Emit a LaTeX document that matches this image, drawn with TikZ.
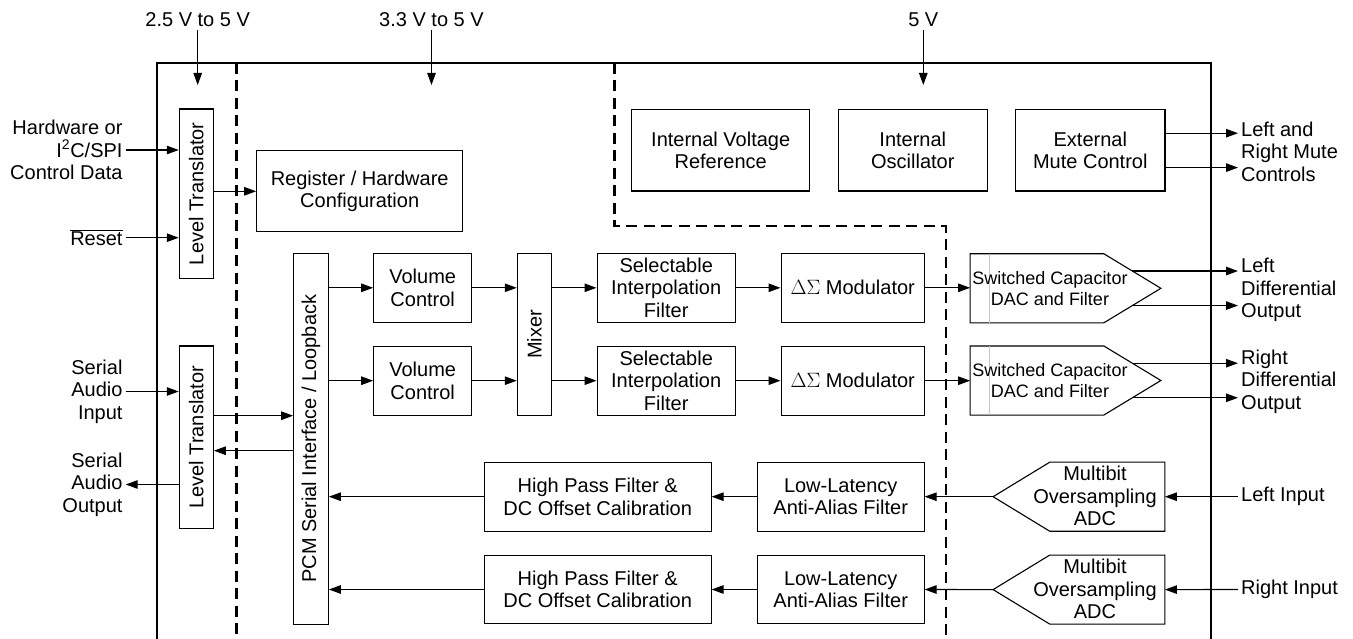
\documentclass[tikz,border=0pt]{standalone}
\usepackage{fontspec}
\setmainfont{Liberation Sans}
\usetikzlibrary{arrows.meta,calc}
\tikzset{
  fnt/.style={font=\fontsize{20}{22.5}\selectfont},
  box/.style={draw, line width=1.1pt, inner sep=0pt, align=center, fnt},
  bx/.style 2 args={box, minimum width=#1pt, minimum height=#2pt},
  ghost/.style 2 args={inner sep=0pt, minimum width=#1pt, minimum height=#2pt},
  lbl/.style={inner sep=3pt, fnt},
  arr/.style={-{Triangle[length=12pt,width=8.5pt]}, line width=1.1pt},
  outline/.style={line width=2.4pt},
  dsh/.style={line width=2.4pt, dash pattern=on 11pt off 6.5pt},
  shp/.style={line width=1.1pt, line join=miter},
}
\begin{document}
\begin{tikzpicture}[x=1pt,y=-1pt]
\useasboundingbox (0,0) rectangle (1353,639);

% outer frame and supply domains
\draw[outline] (157,639) -- (157,63) -- (1211,63) -- (1211,639);
\draw[dsh] (236.3,63) -- (236.3,639);
\draw[dsh] (614.3,63) -- (614.3,226) -- (945.7,226) -- (945.7,639);

% supply labels
\node[lbl] (v1) at (197.7,20) {2.5 V to 5 V};
\node[lbl] (v2) at (431.5,20) {3.3 V to 5 V};
\node[lbl] (v3) at (923.3,20) {5 V};
\coordinate (v1e) at (197.7,85);
\coordinate (v2e) at (431.5,85);
\coordinate (v3e) at (923.3,85);
\draw[arr] (v1.south) -- (v1e);
\draw[arr] (v2.south) -- (v2e);
\draw[arr] (v3.south) -- (v3e);

% left column
\node[bx={34}{169.3}] (lt1) at (196.3,193.7) {\rotatebox{90}{Level Translator}};
\node[bx={34}{182.7}] (lt2) at (196.3,437.3) {\rotatebox{90}{Level Translator}};
\node[bx={206}{80.7}] (reg) at (359.7,191.3) {Register / Hardware\\Configuration};
\node[bx={34.6}{370.7}] (pcm) at (311,438.7) {\rotatebox{90}{PCM Serial Interface / Loopback}};

% DAC path
\node[bx={98}{69}] (vc1) at (422.7,287.8) {Volume\\Control};
\node[bx={98}{69}] (vc2) at (422.7,380.7) {Volume\\Control};
\node[bx={34.4}{162.4}] (mix) at (534.5,334.5) {\rotatebox{90}{Mixer}};
\node[bx={138.3}{69}] (sif1) at (666.2,287.8) {Selectable\\Interpolation\\Filter};
\node[bx={138.3}{69}] (sif2) at (666.2,380.7) {Selectable\\Interpolation\\Filter};
\node[bx={143.3}{69}] (dsm1) at (852.7,287.8) {$\Delta\Sigma$ Modulator};
\node[bx={143.3}{69}] (dsm2) at (852.7,380.7) {$\Delta\Sigma$ Modulator};

% top right blocks
\node[bx={178}{81.7}] (ivr) at (720.7,150.2) {Internal Voltage\\Reference};
\node[bx={149}{81.7}] (osc) at (912.8,150.2) {Internal\\Oscillator};
\node[bx={149.3}{81.7}] (emc) at (1090.3,150.2) {External\\Mute Control};

% ADC path
\node[bx={226.7}{68.7}] (hpf1) at (597.7,496.7) {High Pass Filter \&\\DC Offset Calibration};
\node[bx={226.7}{68.7}] (hpf2) at (597.7,589.5) {High Pass Filter \&\\DC Offset Calibration};
\node[bx={166.7}{68.7}] (ll1) at (840.7,496.7) {Low-Latency\\Anti-Alias Filter};
\node[bx={166.7}{68.7}] (ll2) at (840.7,589.5) {Low-Latency\\Anti-Alias Filter};

% DAC shapes
\node[ghost={190.4}{68.7}] (dac1) at (1065.5,288.3) {};
\node[ghost={190.4}{68.7}] (dac2) at (1065.5,380.5) {};
\draw[shp] (dac1.south west) -- (dac1.north west) -- ++(133.7,0) coordinate (dac1t)
  -- (dac1.east) -- (dac1.south west -| dac1t) coordinate (dac1b) -- cycle;
\draw[shp] (dac2.south west) -- (dac2.north west) -- ++(133.7,0) coordinate (dac2t)
  -- (dac2.east) -- (dac2.south west -| dac2t) coordinate (dac2b) -- cycle;
\draw[gray!45, line width=1.1pt] ($(dac1.north west)+(19,0)$) -- ($(dac1.south west)+(19,0)$);
\draw[gray!45, line width=1.1pt] ($(dac2.north west)+(19,0)$) -- ($(dac2.south west)+(19,0)$);
\node[align=center, inner sep=0pt, font=\fontsize{18}{21}\selectfont] (dac1txt) at (1050,288.5) {Switched Capacitor\\DAC and Filter};
\node[align=center, inner sep=0pt, font=\fontsize{18}{21}\selectfont] (dac2txt) at (1050,380.7) {Switched Capacitor\\DAC and Filter};

% ADC shapes
\node[ghost={171.4}{68.7}] (adc1) at (1079,496.7) {};
\node[ghost={171.4}{68.7}] (adc2) at (1079,589.6) {};
\draw[shp] (adc1.west) -- ($(adc1.north west)+(56.7,0)$) -- (adc1.north east) -- (adc1.south east) -- ($(adc1.south west)+(56.7,0)$) -- cycle;
\draw[shp] (adc2.west) -- ($(adc2.north west)+(56.7,0)$) -- (adc2.north east) -- (adc2.south east) -- ($(adc2.south west)+(56.7,0)$) -- cycle;
\node[align=center, inner sep=0pt, fnt] (adc1txt) at (1095,496.2) {Multibit\\Oversampling\\ADC};
\node[align=center, inner sep=0pt, fnt] (adc2txt) at (1095,589.1) {Multibit\\Oversampling\\ADC};

% external labels
\node[lbl, align=right, anchor=east] (hw) at (125.7,150) {Hardware or\\I\textsuperscript{2}C/SPI\\Control Data};
\node[lbl, anchor=east] (rst) at (125.7,237.7) {$\overline{\mbox{Reset}}$};
\node[lbl, align=right, anchor=east] (sai) at (125.7,391.5) {Serial\\Audio\\Input};
\node[lbl, align=right, anchor=east] (sao) at (125.7,484.5) {Serial\\Audio\\Output};
\node[lbl, align=left, anchor=west] (mute) at (1238,151.7) {Left and\\Right Mute\\Controls};
\node[lbl, align=left, anchor=west] (ldo) at (1238,290) {Left\\Differential\\Output};
\node[lbl, align=left, anchor=west] (rdo) at (1238,381.7) {Right\\Differential\\Output};
\node[lbl, anchor=west] (lin) at (1238,496.7) {Left Input};
\node[lbl, anchor=west] (rin) at (1238,589.5) {Right Input};

% connectors: left side
\draw[arr] (hw.east) -- (hw.east -| lt1.west);
\draw[arr] (rst.east) -- (rst.east -| lt1.west);
\draw[arr] (sai.east) -- (sai.east -| lt2.west);
\draw[arr] (sao.east -| lt2.west) -- (sao.east);
\draw[arr] (reg.west -| lt1.east) -- (reg.west);
\draw[arr] ([yshift=21.6pt]lt2.east) -- ([yshift=21.6pt]lt2.east -| pcm.west);
\draw[arr] ([yshift=-13.4pt]lt2.east -| pcm.west) -- ([yshift=-13.4pt]lt2.east);

% DAC path connectors
\draw[arr] (vc1.west -| pcm.east) -- (vc1.west);
\draw[arr] (vc2.west -| pcm.east) -- (vc2.west);
\draw[arr] (vc1.east) -- (vc1.east -| mix.west);
\draw[arr] (vc2.east) -- (vc2.east -| mix.west);
\draw[arr] (sif1.west -| mix.east) -- (sif1.west);
\draw[arr] (sif2.west -| mix.east) -- (sif2.west);
\draw[arr] (sif1.east) -- (dsm1.west);
\draw[arr] (sif2.east) -- (dsm2.west);
\draw[arr] (dsm1.east) -- (dsm1.east -| dac1.west);
\draw[arr] (dsm2.east) -- (dsm2.east -| dac2.west);

% DAC outputs
\coordinate (d1a) at ($(dac1t)!0.5!(dac1.east)$);
\coordinate (d1b) at ($(dac1b)!0.5!(dac1.east)$);
\coordinate (d2a) at ($(dac2t)!0.5!(dac2.east)$);
\coordinate (d2b) at ($(dac2b)!0.5!(dac2.east)$);
\draw[arr] (d1a) -- (d1a -| ldo.west);
\draw[arr] (d1b) -- (d1b -| ldo.west);
\draw[arr] (d2a) -- (d2a -| rdo.west);
\draw[arr] (d2b) -- (d2b -| rdo.west);

% mute outputs
\draw[arr] ([yshift=17pt]emc.east) -- ([yshift=17pt]emc.east -| mute.west);
\draw[arr] ([yshift=-17.4pt]emc.east) -- ([yshift=-17.4pt]emc.east -| mute.west);

% ADC path connectors
\draw[arr] (lin.west) -- (adc1.east);
\draw[arr] (rin.west) -- (adc2.east);
\draw[arr] (adc1.west) -- (ll1.east);
\draw[arr] (adc2.west) -- (ll2.east);
\draw[arr] (ll1.west) -- (hpf1.east);
\draw[arr] (ll2.west) -- (hpf2.east);
\draw[arr] (hpf1.west) -- (hpf1.west -| pcm.east);
\draw[arr] (hpf2.west) -- (hpf2.west -| pcm.east);
\end{tikzpicture}
\end{document}
